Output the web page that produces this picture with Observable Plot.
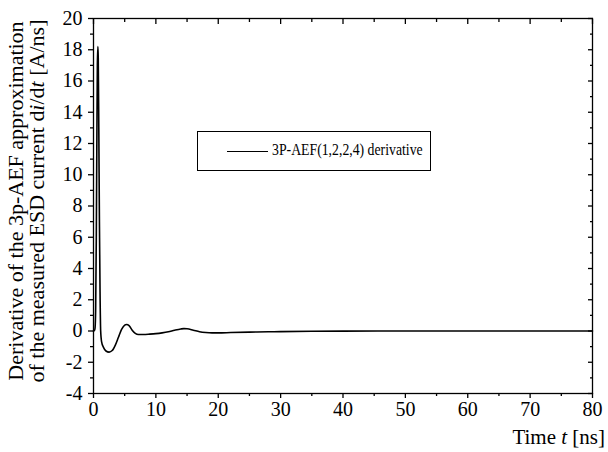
<!DOCTYPE html>
<html>
<head>
<meta charset="utf-8">
<script src="https://cdn.jsdelivr.net/npm/d3@7"></script>
<script src="https://cdn.jsdelivr.net/npm/@observablehq/plot@0.6"></script>
<style>
  html, body { margin: 0; padding: 0; background: #fff; }
  #wrap { position: relative; width: 608px; height: 452px; font-family: "Liberation Serif", "Times New Roman", serif; }
  #legend { position: absolute; left: 197px; top: 131px; width: 234px; height: 40px; border: 1.3px solid #000; background: #fff; box-sizing: border-box; }
  #legend .sample { position: absolute; left: 29px; top: 19px; width: 41px; border-top: 1.3px solid #000; }
  #legend .lab { position: absolute; left: 74px; top: 8px; font-size: 17px; white-space: nowrap; color: #000; transform: scaleX(0.81); transform-origin: 0 50%; }
</style>
</head>
<body>
<div id="wrap">
  <div id="chart"></div>
  <div id="legend"><div class="sample"></div><div class="lab">3P-AEF(1,2,2,4) derivative</div></div>
</div>
<script>
// Time (ns)
const time = [0, 0.15, 0.25, 0.35, 0.45, 0.55, 0.62, 0.7, 0.76, 0.85, 0.95, 1.05, 1.15, 1.3, 1.6, 2.0, 2.5, 3.0, 3.5, 4.0, 4.5, 5.0, 5.3, 5.7, 6.2, 6.7, 7.2, 8, 9, 10, 11, 12, 13, 14, 14.5, 15, 16, 17, 18, 19, 20, 22, 25, 28, 30, 35, 40, 50, 60, 70, 80];
// Derivative di/dt (A/ns)
const deriv = [0, 0.02, 0.2, 1.5, 6, 13, 17, 18.2, 17.5, 13, 7, 2.5, 0, -0.7, -1.05, -1.28, -1.35, -1.25, -0.9, -0.4, 0.1, 0.38, 0.42, 0.35, 0.05, -0.15, -0.22, -0.22, -0.2, -0.17, -0.12, -0.05, 0.05, 0.13, 0.15, 0.14, 0.05, -0.05, -0.1, -0.12, -0.12, -0.1, -0.07, -0.05, -0.04, -0.02, -0.01, 0, 0, 0, 0];
const xMajor = [0, 10, 20, 30, 40, 50, 60, 70, 80];
const xMinor = [5, 15, 25, 35, 45, 55, 65, 75];
const yMajor = [-4, -2, 0, 2, 4, 6, 8, 10, 12, 14, 16, 18, 20];
const yMinor = [-3, -1, 1, 3, 5, 7, 9, 11, 13, 15, 17, 19];

const data = time.map((t, i) => ({t, v: deriv[i]}));

const plot = Plot.plot({
  width: 608,
  height: 452,
  marginLeft: 93,
  marginRight: 16,
  marginTop: 18,
  marginBottom: 59,
  style: {fontFamily: "'Liberation Serif', 'Times New Roman', serif", fontSize: "20px", color: "#000", background: "#fff"},
  x: {domain: [0, 80]},
  y: {domain: [-4, 20]},
  marks: [
    Plot.axisX({ticks: xMajor, tickSize: 5, tickPadding: 3, tickFormat: d => d, label: null, fontSize: 20, strokeWidth: 1.3}),
    Plot.axisX({ticks: xMinor, tickSize: 3, text: null, label: null, strokeWidth: 1.3}),
    Plot.axisX({anchor: "top", ticks: xMajor, tickSize: -5, text: null, label: null, strokeWidth: 1.3}),
    Plot.axisX({anchor: "top", ticks: xMinor, tickSize: -3, text: null, label: null, strokeWidth: 1.3}),
    Plot.axisY({ticks: yMajor, tickSize: 5, tickPadding: 6, tickFormat: d => d, label: null, fontSize: 20, strokeWidth: 1.3}),
    Plot.axisY({ticks: yMinor, tickSize: 3, text: null, label: null, strokeWidth: 1.3}),
    Plot.axisY({anchor: "right", ticks: yMajor, tickSize: -5, text: null, label: null, strokeWidth: 1.3}),
    Plot.axisY({anchor: "right", ticks: yMinor, tickSize: -3, text: null, label: null, strokeWidth: 1.3}),
    Plot.frame({stroke: "#000", strokeWidth: 1.3}),
    Plot.line(data, {x: "t", y: "v", stroke: "#000", strokeWidth: 1.6, curve: "monotone-x"})
  ]
});

document.getElementById("chart").appendChild(plot);

const svg = d3.select(plot);
// Y-axis title, two lines
const yt = svg.append("text")
  .attr("transform", "translate(23,201) rotate(-90)")
  .attr("text-anchor", "middle")
  .attr("font-size", 22)
  .attr("fill", "#000");
yt.append("tspan").attr("x", 0).attr("dy", 0).text("Derivative of the 3p-AEF approximation");
const l2 = yt.append("tspan").attr("x", 0).attr("dy", 21);
l2.append("tspan").text("of the measured ESD current d");
l2.append("tspan").attr("font-style", "italic").text("i");
l2.append("tspan").text("/d");
l2.append("tspan").attr("font-style", "italic").text("t");
l2.append("tspan").text(" [A/ns]");

// X-axis title
const xt = svg.append("text")
  .attr("x", 605).attr("y", 444)
  .attr("text-anchor", "end")
  .attr("font-size", 21)
  .attr("fill", "#000");
xt.append("tspan").text("Time ");
xt.append("tspan").attr("font-style", "italic").text("t");
xt.append("tspan").text(" [ns]");
</script>
</body>
</html>
